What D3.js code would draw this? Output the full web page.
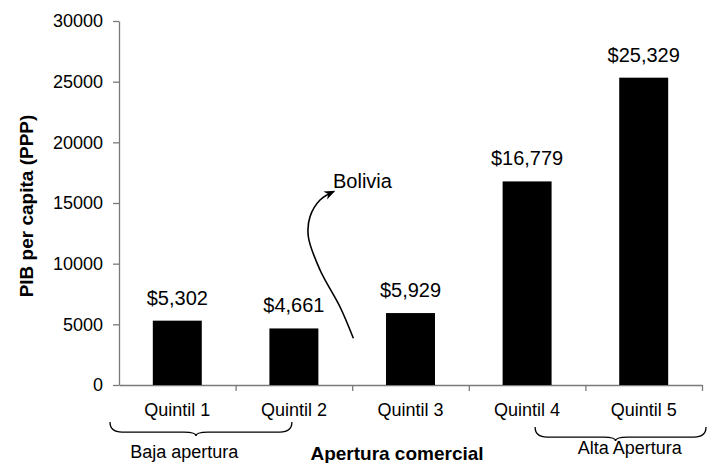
<!DOCTYPE html>
<html lang="es">
<head>
<meta charset="utf-8">
<title>PIB per capita por apertura comercial</title>
<script src="https://d3js.org/d3.v7.min.js"></script>
<style>
  body { margin: 0; background: #fff; }
  svg { display: block; font-family: Arial, "Liberation Sans", sans-serif; }
  .axis path, .axis line { stroke: #7a7a7a; stroke-width: 1.3; }
  .axis text { fill: #000; }
</style>
</head>
<body>
<script>
// datos
var quintiles = ["Quintil 1", "Quintil 2", "Quintil 3", "Quintil 4", "Quintil 5"];
var pib = [5302, 4661, 5929, 16779, 25329];
var yTicks = [0, 5000, 10000, 15000, 20000, 25000, 30000];
var grupos = ["Baja apertura", "Alta Apertura"];
var tituloY = "PIB per capita (PPP)";
var tituloX = "Apertura comercial";
var nota = "Bolivia";
// curva de la flecha: [posicion en quintiles, valor]
var flecha = [[2.0, 3800], [2.01, 3850], [1.895, 6450], [1.724, 9480], [1.624, 12220], [1.638, 13870], [1.724, 15250], [1.838, 15930]];

var W = 712, H = 463;
var mIzq = 119, mDer = 702, mSup = 21, mInf = 385;

var svg = d3.select("body").append("svg")
    .attr("width", W)
    .attr("height", H);

var x = d3.scaleBand()
    .domain(quintiles)
    .range([mIzq, mDer])
    .paddingInner(0.58)
    .paddingOuter(0.29);

// limites entre categorias
var xb = d3.scaleLinear().domain([0, quintiles.length]).range([mIzq, mDer]);

var y = d3.scaleLinear().domain([0, 30000]).range([mInf, mSup]);

// eje y
var gy = svg.append("g")
    .attr("class", "axis")
    .attr("transform", "translate(" + mIzq + ",0)")
    .call(d3.axisLeft(y).tickValues(yTicks).tickSize(6).tickSizeOuter(0).tickPadding(10).tickFormat(d3.format("d")));
gy.selectAll("text").style("font-size", "18px");

// eje x (marcas en los limites)
var gx = svg.append("g")
    .attr("class", "axis")
    .attr("transform", "translate(0," + mInf + ")")
    .call(d3.axisBottom(xb).tickValues(d3.range(1, quintiles.length + 1)).tickSize(6).tickSizeOuter(0).tickFormat(""));

// barras
svg.append("g")
    .selectAll("rect")
    .data(pib)
    .enter()
    .append("rect")
    .attr("x", function(d, i) { return x(quintiles[i]); })
    .attr("y", function(d) { return y(d); })
    .attr("width", x.bandwidth())
    .attr("height", function(d) { return y(0) - y(d); })
    .attr("fill", "#000");

// etiquetas de valor
svg.append("g")
    .selectAll("text")
    .data(pib)
    .enter()
    .append("text")
    .attr("x", function(d, i) { return x(quintiles[i]) + x.bandwidth() / 2; })
    .attr("y", function(d) { return y(d) - 16; })
    .attr("text-anchor", "middle")
    .style("font-size", "20px")
    .text(function(d) { return "$" + d3.format(",")(d); });

// nombres de quintiles
svg.append("g")
    .selectAll("text")
    .data(quintiles)
    .enter()
    .append("text")
    .attr("x", function(d) { return x(d) + x.bandwidth() / 2; })
    .attr("y", 416)
    .attr("text-anchor", "middle")
    .style("font-size", "18px")
    .text(function(d) { return d; });

// llaves
function llave(x1, x2, xm, y0, h) {
  var ym = y0 + h * 0.72, yb = y0 + h, r = 12;
  return "M" + x1 + "," + y0
    + " Q" + x1 + "," + ym + " " + (x1 + r) + "," + ym
    + " L" + (xm - r) + "," + ym
    + " Q" + xm + "," + ym + " " + xm + "," + yb
    + " Q" + xm + "," + ym + " " + (xm + r) + "," + ym
    + " L" + (x2 - r) + "," + ym
    + " Q" + x2 + "," + ym + " " + x2 + "," + y0;
}

var llaves = [
  { txt: grupos[0], x1: xb(0) - 9, x2: xb(1.5) - 2, y0: 422, tx: xb(0.56), ty: 458 },
  { txt: grupos[1], x1: xb(3.5) + 8, x2: xb(5) + 4, y0: 427, tx: xb(4.38), ty: 454 }
];

svg.append("g")
    .selectAll("path")
    .data(llaves)
    .enter()
    .append("path")
    .attr("d", function(d) { return llave(d.x1, d.x2, (d.x1 + d.x2) / 2 - 5, d.y0, 14); })
    .attr("fill", "none")
    .attr("stroke", "#000")
    .attr("stroke-width", 1.3);

svg.append("g")
    .selectAll("text")
    .data(llaves)
    .enter()
    .append("text")
    .attr("x", function(d) { return d.tx; })
    .attr("y", function(d) { return d.ty; })
    .attr("text-anchor", "middle")
    .style("font-size", "18px")
    .text(function(d) { return d.txt; });

// titulos
svg.append("text")
    .attr("transform", "translate(33," + ((mSup + mInf) / 2 + 3) + ") rotate(-90)")
    .attr("text-anchor", "middle")
    .style("font-size", "19px")
    .style("font-weight", "bold")
    .text(tituloY);

svg.append("text")
    .attr("x", 397)
    .attr("y", 460)
    .attr("text-anchor", "middle")
    .style("font-size", "19px")
    .style("font-weight", "bold")
    .text(tituloX);

// anotacion Bolivia
svg.append("defs").append("marker")
    .attr("id", "punta")
    .attr("viewBox", "0 0 10 10")
    .attr("refX", 8)
    .attr("refY", 5)
    .attr("markerWidth", 7)
    .attr("markerHeight", 7)
    .attr("orient", "auto")
    .append("path")
    .attr("d", "M0,1 L10,5 L0,9 L3,5 Z")
    .attr("fill", "#000");

var linea = d3.line()
    .x(function(d) { return xb(d[0]); })
    .y(function(d) { return y(d[1]); })
    .curve(d3.curveCatmullRom);

svg.append("path")
    .attr("d", linea(flecha.slice(1)))
    .attr("fill", "none")
    .attr("stroke", "#000")
    .attr("stroke-width", 1.6)
    .attr("marker-end", "url(#punta)");

svg.append("text")
    .attr("x", 333)
    .attr("y", 188)
    .style("font-size", "20px")
    .text(nota);
</script>
</body>
</html>
